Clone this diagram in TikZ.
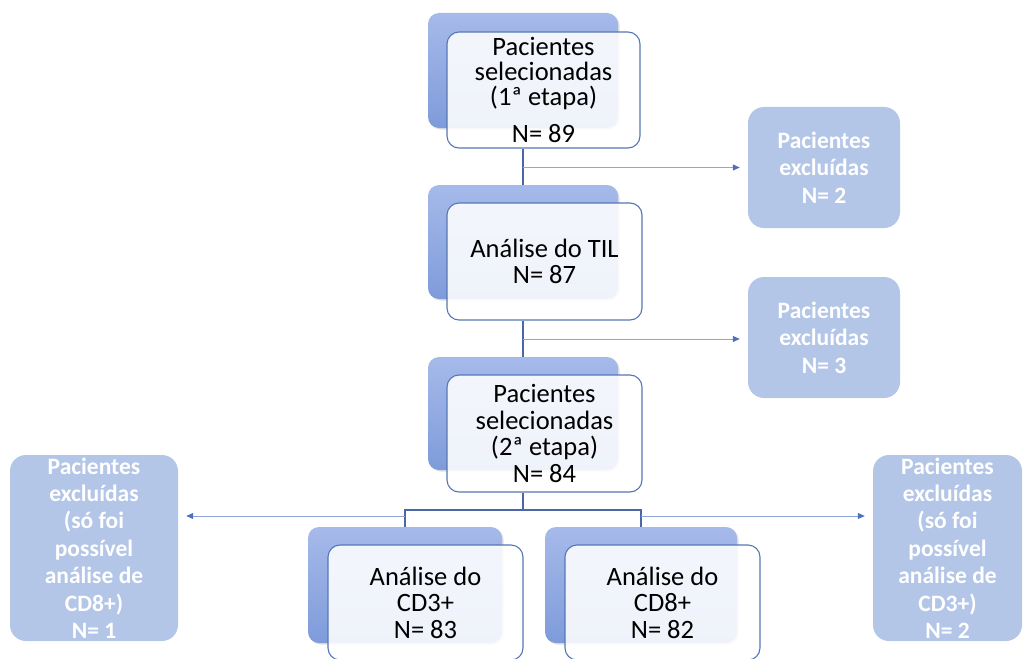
\documentclass[tikz,border=0pt]{standalone}
\usepackage{fontspec}
\setmainfont{Carlito}
\usetikzlibrary{arrows.meta,shadows}
\definecolor{conn}{HTML}{4A68A8}
\definecolor{arr}{HTML}{8EA6D6}
\definecolor{arrtip}{HTML}{4A72C0}
\definecolor{backtop}{HTML}{A6BAEA}
\definecolor{backbot}{HTML}{7E9BDA}
\definecolor{frontdraw}{HTML}{5677B5}
\definecolor{exfill}{HTML}{B3C6E7}
\begin{document}
\begin{tikzpicture}[x=1pt,y=-1pt,
  backbox/.style={rounded corners=11pt, top color=backtop, bottom color=backbot, draw=none, inner sep=0pt,
    drop shadow={opacity=0.25, shadow xshift=1.5pt, shadow yshift=-1.5pt}},
  frontbox/.style={rounded corners=12pt, draw=frontdraw, line width=1.1pt, fill=white, fill opacity=0.88,
    text opacity=1, text=black, align=center, font=\fontsize{26.5}{26.5}\selectfont, inner sep=0pt},
  exbox/.style={rounded corners=16pt, fill=exfill, text=white, align=center,
    font=\bfseries\fontsize{23.5}{27.4}\selectfont, inner sep=0pt},
  conline/.style={draw=conn, line width=1.1pt},
  exarrow/.style={draw=arr, line width=1pt, shorten >=8pt, -{Triangle[length=7pt,width=6pt,color=arrtip]}}
]
\useasboundingbox (0,0) rectangle (1027,658);
\clip (0,0) rectangle (1027,658);

% side boxes
\node[exbox, minimum width=152pt, minimum height=121pt] (ex1) at (824,167.5) {Pacientes\\excluídas\\N= 2};
\node[exbox, minimum width=152pt, minimum height=121pt] (ex2) at (824,337.5) {Pacientes\\excluídas\\N= 3};
\node[exbox, minimum width=168pt, minimum height=186pt] (ex3) at (94,548) {Pacientes\\excluídas\\(só foi\\possível\\análise de\\CD8+)\\N= 1};
\node[exbox, minimum width=149pt, minimum height=186pt] (ex4) at (947.5,548) {Pacientes\\excluídas\\(só foi\\possível\\análise de\\CD3+)\\N= 2};

% main steps
\node[backbox, minimum width=190pt, minimum height=115pt] (b1back) at (523,70.5) {};
\node[frontbox, minimum width=193pt, minimum height=116pt, font=\fontsize{26.5}{25}\selectfont] (b1) at (543.5,90) {Pacientes\\selecionadas\\(1ª etapa)\\[12pt]N= 89};

\node[backbox, minimum width=190pt, minimum height=114pt] (b2back) at (523,242) {};
\node[frontbox, minimum width=195pt, minimum height=117pt] (b2) at (544.5,261.5) {Análise do TIL\\N= 87};

\node[backbox, minimum width=190pt, minimum height=113pt] (b3back) at (523,413.5) {};
\node[frontbox, minimum width=195pt, minimum height=117pt] (b3) at (544.5,433.5) {Pacientes\\selecionadas\\(2ª etapa)\\N= 84};

\node[backbox, minimum width=194pt, minimum height=116pt] (b4back) at (405,585) {};
\node[frontbox, minimum width=195pt, minimum height=115pt] (b4) at (425.5,602.5) {Análise do\\CD3+\\N= 83};

\node[backbox, minimum width=192pt, minimum height=116pt] (b5back) at (641,585) {};
\node[frontbox, minimum width=195pt, minimum height=115pt] (b5) at (662.5,602.5) {Análise do\\CD8+\\N= 82};

% connectors
\draw[conline] (b1back.center |- b1.south) -- (b2back.north);
\draw[exarrow] (b1back.center |- ex1.west) -- (ex1.west);

\draw[conline] (b2back.center |- b2.south) -- (b3back.north);
\coordinate (j2) at (523,339);
\draw[exarrow] (j2) -- (ex2.west |- j2);

\coordinate (split) at (523,510);
\draw[conline] (b3back.center |- b3.south) -- (split);
\draw[conline] (b4back.north) |- (split);
\draw[conline] (b5back.north) |- (split);

\coordinate (jl) at (405,516);
\coordinate (jr) at (641,516);
\draw[exarrow] (jl) -- (ex3.east |- jl);
\draw[exarrow] (jr) -- (ex4.west |- jr);
\end{tikzpicture}
\end{document}
